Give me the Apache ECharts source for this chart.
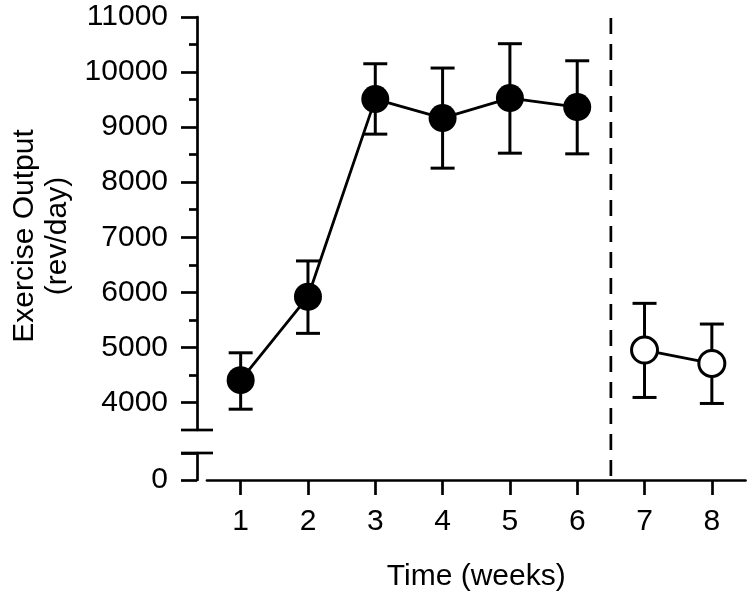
<!DOCTYPE html>
<html>
<head>
<meta charset="utf-8">
<script src="https://cdn.jsdelivr.net/npm/echarts@6/dist/echarts.min.js"></script>
<style>
  html, body { margin: 0; padding: 0; background: #fff; }
  #chart { width: 750px; height: 600px; }
</style>
</head>
<body>
<div id="chart"></div>
<script>
// ---- data ----
const weekLabels = ['1', '2', '3', '4', '5', '6', '7', '8'];
const trainingWeeks = [1, 2, 3, 4, 5, 6];
const trainingMean = [4405, 5920, 9509, 9164, 9527, 9364];
const trainingLow = [3878, 5255, 8873, 8255, 8527, 8515];
const trainingHigh = [4902, 6570, 10151, 10073, 10515, 10205];
const afterWeeks = [7, 8];
const afterMean = [4951, 4709];
const afterLow = [4091, 3982];
const afterHigh = [5800, 5424];
const upperTickMin = 4000;
const upperTickMax = 11000;
const upperTickStep = 1000;
const breakValue = 3500;
const lowerTickMin = 0;
const dividerWeek = 6.5;
const xMin = 0.5;
const xMax = 8.5;

// ---- layout ----
const FONT = 'Liberation Sans, Arial, Helvetica, sans-serif';
const FS = 30;
const L = 207, R = 4.5, TOP = 17, UPPER_BOTTOM = 430, LOWER_TOP = 453, AXIS_Y = 480;
const NAME_CENTER_Y = 236;
const upperH = UPPER_BOTTOM - TOP;
const tickedH = upperH * (upperTickMax - upperTickMin) / (upperTickMax - breakValue);
const LW = 2.7;
const black = '#000';

const chart = echarts.init(document.getElementById('chart'), null, { renderer: 'canvas' });

function pairs(xs, ys) { return xs.map((x, i) => [x, ys[i]]); }
function triples(xs, lo, hi) { return xs.map((x, i) => [x, lo[i], hi[i]]); }

function errorBar(params, api) {
  const x = api.value(0), lo = api.value(1), hi = api.value(2);
  const t = api.coord([x, hi]);
  const b = api.coord([x, lo]);
  const half = 12;
  const style = { stroke: black, lineWidth: 3, fill: null };
  return {
    type: 'group',
    children: [
      { type: 'line', shape: { x1: t[0], y1: t[1], x2: b[0], y2: b[1] }, style },
      { type: 'line', shape: { x1: t[0] - half, y1: t[1], x2: t[0] + half, y2: t[1] }, style },
      { type: 'line', shape: { x1: b[0] - half, y1: b[1], x2: b[0] + half, y2: b[1] }, style }
    ]
  };
}

function capAt(where) {
  return function (params, api) {
    const cs = params.coordSys;
    const ax = cs.x - 10;
    const y = where === 'bottom' ? cs.y + cs.height : cs.y;
    return {
      type: 'line',
      shape: { x1: ax - 16, y1: y, x2: ax + 16, y2: y },
      style: { stroke: black, lineWidth: LW }
    };
  };
}

const option = {
  animation: false,
  backgroundColor: '#fff',
  textStyle: { fontFamily: FONT },
  grid: [
    { left: L, right: R, top: TOP, height: upperH },
    { left: L, right: R, top: TOP, height: tickedH },
    { left: L, right: R, top: LOWER_TOP, height: AXIS_Y - LOWER_TOP },
    { left: L, right: R, top: TOP, height: AXIS_Y - TOP },
    { left: L, right: R, top: TOP, height: 2 * (NAME_CENTER_Y - TOP) }
  ],
  xAxis: [
    { gridIndex: 0, type: 'value', min: xMin, max: xMax, show: false },
    { gridIndex: 1, type: 'value', min: xMin, max: xMax, show: false },
    {
      gridIndex: 2, type: 'category', data: weekLabels, boundaryGap: true,
      axisLine: { show: true, lineStyle: { color: black, width: LW } },
      axisTick: { show: true, alignWithLabel: true, length: 15, lineStyle: { color: black, width: LW } },
      axisLabel: { color: black, fontSize: FS, fontFamily: FONT, margin: 27 },
      splitLine: { show: false },
      name: 'Time (weeks)', nameLocation: 'middle', nameGap: 82,
      nameTextStyle: { color: black, fontSize: FS, fontFamily: FONT }
    },
    { gridIndex: 3, type: 'value', min: xMin, max: xMax, show: false },
    { gridIndex: 4, type: 'value', min: xMin, max: xMax, show: false }
  ],
  yAxis: [
    {
      gridIndex: 0, type: 'value', min: breakValue, max: upperTickMax, offset: 10,
      axisLine: { show: true, lineStyle: { color: black, width: LW } },
      axisTick: { show: false }, axisLabel: { show: false }, splitLine: { show: false }
    },
    {
      gridIndex: 1, type: 'value', min: upperTickMin, max: upperTickMax, interval: upperTickStep, offset: 10,
      axisLine: { show: false },
      axisTick: { show: true, length: 16, lineStyle: { color: black, width: LW } },
      minorTick: { show: true, splitNumber: 2, length: 8, lineStyle: { color: black, width: LW } },
      axisLabel: { color: black, fontSize: FS, fontFamily: FONT, margin: 29, formatter: v => String(v) },
      splitLine: { show: false }, minorSplitLine: { show: false }
    },
    {
      gridIndex: 2, type: 'value', min: lowerTickMin, max: 1, interval: 1, offset: 10,
      axisLine: { show: true, lineStyle: { color: black, width: LW } },
      axisTick: { show: true, length: 16, lineStyle: { color: black, width: LW } },
      axisLabel: { color: black, fontSize: FS, fontFamily: FONT, margin: 29,
        formatter: v => (v === lowerTickMin ? String(lowerTickMin) : '') },
      splitLine: { show: false }
    },
    {
      gridIndex: 3, type: 'value', min: 0, max: 1, show: false
    },
    {
      gridIndex: 4, type: 'value', min: 0, max: 1, offset: 10,
      axisLine: { show: false }, axisTick: { show: false }, axisLabel: { show: false },
      splitLine: { show: false },
      name: 'Exercise Output\n(rev/day)', nameLocation: 'middle', nameGap: 134, nameRotate: 90,
      nameTextStyle: { color: black, fontSize: FS, fontFamily: FONT, lineHeight: 33, align: 'center' }
    }
  ],
  series: [
    {
      type: 'custom', xAxisIndex: 3, yAxisIndex: 3, data: [[dividerWeek]], silent: true, z: 1,
      renderItem: function (params, api) {
        const a = api.coord([api.value(0), 1]);
        const b = api.coord([api.value(0), 0]);
        return { type: 'line', shape: { x1: a[0], y1: a[1] + 1, x2: b[0], y2: b[1] },
          style: { stroke: black, lineWidth: LW, lineDash: [16, 10] } };
      }
    },
    { type: 'custom', xAxisIndex: 0, yAxisIndex: 0, data: [[xMin, breakValue]], silent: true, renderItem: capAt('bottom'), clip: false },
    { type: 'custom', xAxisIndex: 2, yAxisIndex: 2, data: [[0, 1]], silent: true, renderItem: capAt('top'), clip: false },
    {
      type: 'custom', xAxisIndex: 0, yAxisIndex: 0, silent: true, z: 2,
      encode: { x: 0, y: [1, 2] },
      data: triples(trainingWeeks, trainingLow, trainingHigh), renderItem: errorBar
    },
    {
      type: 'custom', xAxisIndex: 0, yAxisIndex: 0, silent: true, z: 2,
      encode: { x: 0, y: [1, 2] },
      data: triples(afterWeeks, afterLow, afterHigh), renderItem: errorBar
    },
    {
      type: 'line', xAxisIndex: 0, yAxisIndex: 0, z: 3, silent: true,
      data: pairs(trainingWeeks, trainingMean),
      symbol: 'circle', symbolSize: 28,
      itemStyle: { color: black, borderColor: black, borderWidth: 0 },
      lineStyle: { color: black, width: 2.8 },
      emphasis: { disabled: true }
    },
    {
      type: 'line', xAxisIndex: 0, yAxisIndex: 0, z: 3, silent: true,
      data: pairs(afterWeeks, afterMean),
      symbol: 'circle', symbolSize: 26, showAllSymbol: true,
      itemStyle: { color: '#fff', borderColor: black, borderWidth: 3 },
      lineStyle: { color: black, width: 2.8 },
      emphasis: { disabled: true }
    }
  ]
};
chart.setOption(option);
</script>
</body>
</html>
